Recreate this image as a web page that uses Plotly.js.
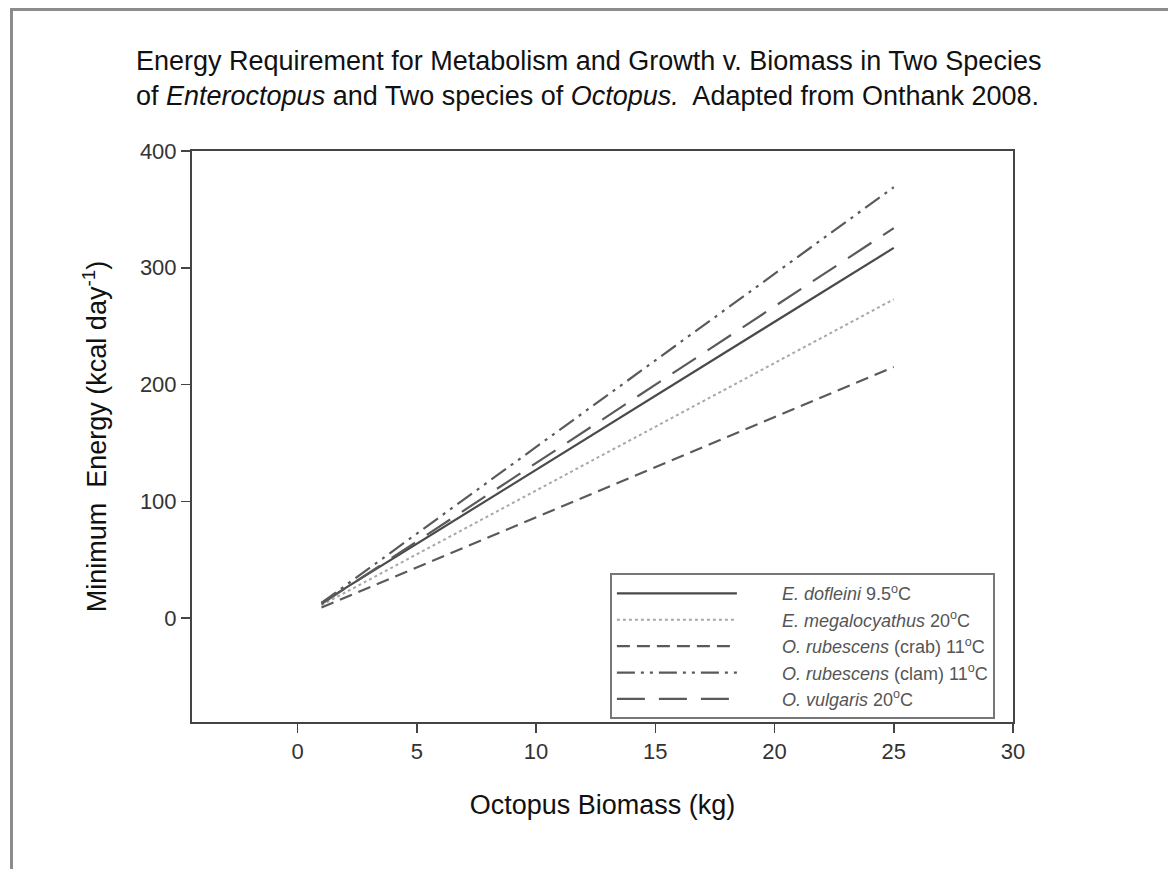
<!DOCTYPE html>
<html>
<head>
<meta charset="utf-8">
<script src="https://cdn.plot.ly/plotly-3.0.1.min.js"></script>
<style>
  html, body { margin: 0; padding: 0; background: #fff; overflow: hidden; }
  #frame { position: absolute; left: 10px; top: 8px; width: 1300px; height: 1000px;
           border-top: 3px solid #8c8c8c; border-left: 3px solid #8c8c8c; }
  #chart { position: absolute; left: 0; top: 0; width: 1168px; height: 869px; }
</style>
</head>
<body>
<div id="frame"></div>
<div id="chart"></div>
<script>
// Data
const biomass = [1, 25];                 // Octopus biomass (kg)
const dofleini = [13, 317];              // E. dofleini 9.5 C
const megalocyathus = [11, 273];         // E. megalocyathus 20 C
const rubescensCrab = [9, 215];          // O. rubescens (crab) 11 C
const rubescensClam = [13, 369];         // O. rubescens (clam) 11 C
const vulgaris = [12, 334];              // O. vulgaris 20 C

const seriesNames = [
  "<i>E. dofleini</i> 9.5<sup>o</sup>C",
  "<i>E. megalocyathus</i> 20<sup>o</sup>C",
  "<i>O. rubescens</i> (crab) 11<sup>o</sup>C",
  "<i>O. rubescens</i> (clam) 11<sup>o</sup>C",
  "<i>O. vulgaris</i> 20<sup>o</sup>C"
];
const xTicks = [0, 5, 10, 15, 20, 25, 30];
const yTicks = [0, 100, 200, 300, 400];

const pad = "\u00A0".repeat(8);
function tr(y, name, color, dash, width) {
  return { x: biomass, y: y, name: pad + name, type: "scatter", mode: "lines",
           line: { color: color, dash: dash, width: width } };
}

const data = [
  tr(dofleini, seriesNames[0], "#4a4a4a", "solid", 2.2),
  tr(megalocyathus, seriesNames[1], "#a8a8a8", "dot", 2),
  tr(rubescensCrab, seriesNames[2], "#5a5a5a", "13px,7px", 2.2),
  tr(rubescensClam, seriesNames[3], "#5a5a5a", "18px,6px,3px,6px,3px,6px", 2.2),
  tr(vulgaris, seriesNames[4], "#5a5a5a", "28px,14px", 2.2)
];

const layout = {
  width: 1168, height: 869,
  margin: { l: 192, r: 155, t: 151, b: 147, pad: 0 },
  paper_bgcolor: "rgba(0,0,0,0)",
  plot_bgcolor: "#fff",
  font: { family: "Liberation Sans, Arial, sans-serif", color: "#222" },
  title: {
    text: "Energy Requirement for Metabolism and Growth v. Biomass in Two Species<br>of <i>Enteroctopus</i> and Two species of <i>Octopus.</i>  Adapted from Onthank 2008.",
    font: { size: 27, color: "#111" },
    x: 136 / 1168, xref: "container", xanchor: "left",
    y: 1 - 70 / 869, yref: "container", yanchor: "top",
    align: "left"
  },
  xaxis: {
    range: [-4.43, 30], tickvals: xTicks, ticktext: xTicks.map(String),
    showgrid: false, zeroline: false,
    showline: true, linecolor: "#444", linewidth: 2, mirror: true,
    ticks: "outside", ticklen: 9, tickwidth: 1.5, tickcolor: "#444",
    tickfont: { size: 22, color: "#333" },
    title: { text: "Octopus Biomass (kg)", font: { size: 27, color: "#111" }, standoff: 32 }
  },
  yaxis: {
    range: [-89, 400], tickvals: yTicks, ticktext: yTicks.map(String),
    showgrid: false, zeroline: false,
    showline: true, linecolor: "#444", linewidth: 2, mirror: true,
    ticks: "outside", ticklen: 9, tickwidth: 1.5, tickcolor: "#444",
    tickfont: { size: 22, color: "#333" },
    title: { text: "Minimum\u00A0\u00A0Energy (kcal day<sup>-1</sup>)", font: { size: 27, color: "#111" }, standoff: 25 }
  },
  showlegend: true,
  legend: {
    x: 0.509, xanchor: "left", y: 0.005, yanchor: "bottom",
    bgcolor: "#fff", bordercolor: "#777", borderwidth: 2,
    font: { size: 18, color: "#555" },
    itemwidth: 120, tracegroupgap: 0
  }
};

Plotly.newPlot("chart", data, layout, { staticPlot: true, displayModeBar: false });
</script>
</body>
</html>
